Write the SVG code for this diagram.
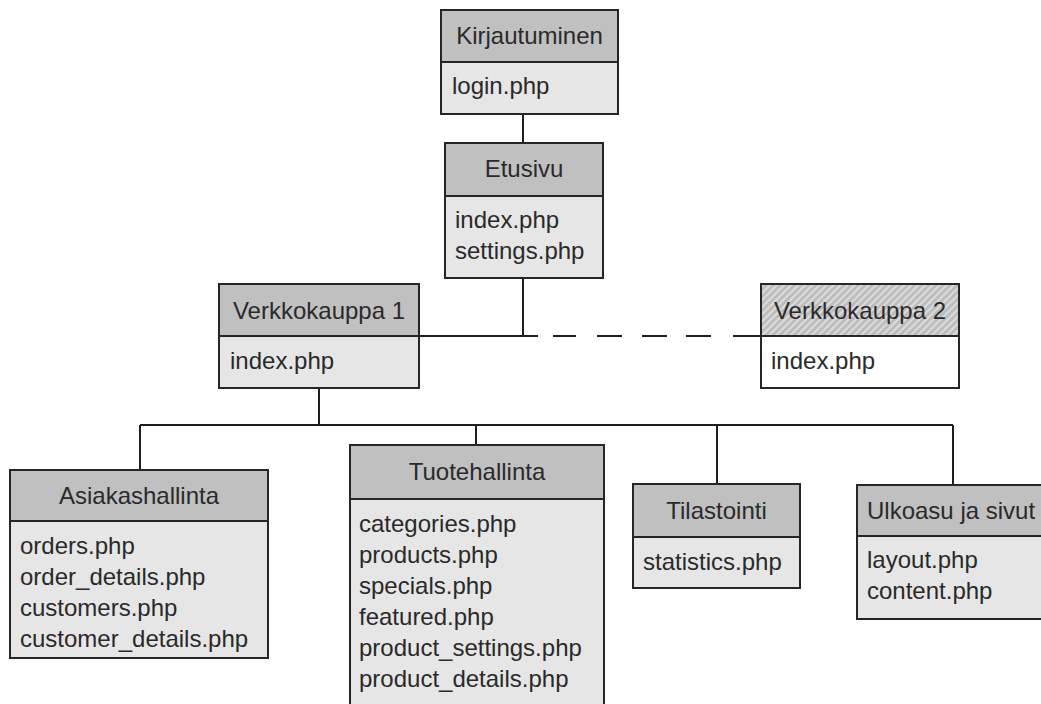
<svg xmlns="http://www.w3.org/2000/svg" width="1041" height="704" viewBox="0 0 1041 704">
  <style>
    .hdr { fill: #c0c0c0; stroke: #262626; stroke-width: 2; }
    .body { fill: #e6e6e6; stroke: #262626; stroke-width: 2; }
    .white { fill: #ffffff; stroke: #262626; stroke-width: 2; }
    .hatch { fill: url(#hatch); stroke: #262626; stroke-width: 2; }
    .t { font-family: "Liberation Sans", Arial, sans-serif; font-size: 24px; fill: #2a2a2a; }
    .c { text-anchor: middle; }
    .line { stroke: #1e1e1e; stroke-width: 2; fill: none; }
  </style>
  <defs>
    <pattern id="hatch" patternUnits="userSpaceOnUse" width="5" height="5" patternTransform="rotate(45)">
      <rect x="0" y="0" width="5" height="5" fill="#bdbdbd"/>
      <line x1="1" y1="0" x2="1" y2="5" stroke="#e4e4e4" stroke-width="1.6"/>
    </pattern>
  </defs>
  <rect x="0" y="0" width="1041" height="704" fill="#ffffff"/>

  <g id="connectors">
    <line class="line" x1="523" y1="114" x2="523" y2="143"/>
    <line class="line" x1="523" y1="278" x2="523" y2="336"/>
    <line class="line" x1="419" y1="336" x2="538" y2="336"/>
    <line class="line" x1="553" y1="336" x2="576" y2="336"/>
    <line class="line" x1="597" y1="336" x2="622" y2="336"/>
    <line class="line" x1="642" y1="336" x2="667" y2="336"/>
    <line class="line" x1="686" y1="336" x2="711" y2="336"/>
    <line class="line" x1="733" y1="336" x2="761" y2="336"/>
    <line class="line" x1="319" y1="388" x2="319" y2="425"/>
    <line class="line" x1="140" y1="425" x2="953" y2="425"/>
    <line class="line" x1="140" y1="425" x2="140" y2="470"/>
    <line class="line" x1="476" y1="425" x2="476" y2="445"/>
    <line class="line" x1="717" y1="425" x2="717" y2="484"/>
    <line class="line" x1="953" y1="425" x2="953" y2="485"/>
  </g>

  <g id="kirjautuminen">
    <rect class="hdr" x="441" y="10" width="177" height="52"/>
    <rect class="body" x="441" y="62" width="177" height="52"/>
    <text class="t c" x="529.5" y="44">Kirjautuminen</text>
    <text class="t" x="452" y="94">login.php</text>
  </g>

  <g id="etusivu">
    <rect class="hdr" x="445" y="143" width="158" height="53"/>
    <rect class="body" x="445" y="196" width="158" height="82"/>
    <text class="t c" x="524" y="177">Etusivu</text>
    <text class="t" x="455" y="228">index.php</text>
    <text class="t" x="455" y="259">settings.php</text>
  </g>

  <g id="verkkokauppa1">
    <rect class="hdr" x="219" y="284" width="200" height="52"/>
    <rect class="body" x="219" y="336" width="200" height="52"/>
    <text class="t c" x="319" y="319">Verkkokauppa 1</text>
    <text class="t" x="230" y="369">index.php</text>
  </g>

  <g id="verkkokauppa2">
    <rect class="hatch" x="761" y="284" width="198" height="52"/>
    <rect class="white" x="761" y="336" width="198" height="52"/>
    <text class="t c" x="860" y="319">Verkkokauppa 2</text>
    <text class="t" x="771" y="369">index.php</text>
  </g>

  <g id="asiakashallinta">
    <rect class="hdr" x="10" y="470" width="258" height="51"/>
    <rect class="body" x="10" y="521" width="258" height="137"/>
    <text class="t c" x="139" y="504">Asiakashallinta</text>
    <text class="t" x="20" y="554">orders.php</text>
    <text class="t" x="20" y="585">order_details.php</text>
    <text class="t" x="20" y="616">customers.php</text>
    <text class="t" x="20" y="647">customer_details.php</text>
  </g>

  <g id="tuotehallinta">
    <rect class="hdr" x="350" y="445" width="254" height="54"/>
    <rect class="body" x="350" y="499" width="254" height="215"/>
    <text class="t c" x="477" y="480">Tuotehallinta</text>
    <text class="t" x="359" y="532">categories.php</text>
    <text class="t" x="359" y="563">products.php</text>
    <text class="t" x="359" y="594">specials.php</text>
    <text class="t" x="359" y="625">featured.php</text>
    <text class="t" x="359" y="656">product_settings.php</text>
    <text class="t" x="359" y="687">product_details.php</text>
  </g>

  <g id="tilastointi">
    <rect class="hdr" x="633" y="484" width="167" height="53"/>
    <rect class="body" x="633" y="537" width="167" height="51"/>
    <text class="t c" x="716.5" y="519">Tilastointi</text>
    <text class="t" x="643" y="570">statistics.php</text>
  </g>

  <g id="ulkoasu">
    <rect class="hdr" x="857" y="485" width="200" height="51"/>
    <rect class="body" x="857" y="536" width="200" height="83"/>
    <text class="t" x="867" y="519">Ulkoasu ja sivut</text>
    <text class="t" x="867" y="568">layout.php</text>
    <text class="t" x="867" y="599">content.php</text>
  </g>
</svg>
